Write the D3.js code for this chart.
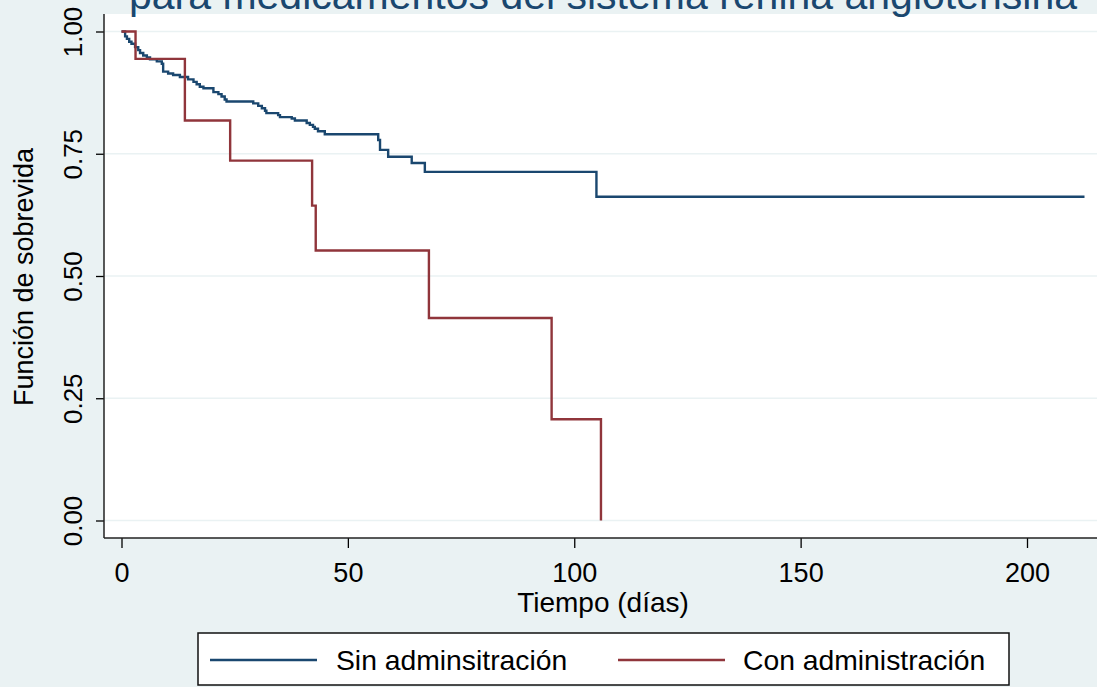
<!DOCTYPE html>
<html><head><meta charset="utf-8">
<script src="https://cdn.jsdelivr.net/npm/d3@7"></script>
<style>body{margin:0;background:#eaf2f3;} svg{display:block;font-family:"Liberation Sans",Arial,sans-serif;}</style>
</head><body><svg id="c" width="1097" height="687"></svg>
<script>
const titleText = "para medicamentos del sistema renina angiotensina";
const seriesNames = ["Sin adminsitración", "Con administración"];
const seriesColors = ["#1a476f", "#90353b"];
const sinTimes = [0, 0.8, 1.2, 1.7, 2.2, 3.0, 3.7, 4.1, 4.8, 5.6, 6.3, 7.8, 8.9, 9.2, 10.3, 11.4, 12.9, 14.7, 15.9, 16.6, 17.3, 18.1, 20.3, 21.4, 22.1, 22.8, 23.2, 29.1, 30.2, 31.0, 31.7, 32.0, 34.6, 35.0, 37.6, 38.3, 40.9, 41.6, 42.3, 42.7, 43.4, 44.9, 56.7, 57.1, 58.9, 64.1, 67.0, 104.9, 212.7];
const sinSurv = [1.000, 0.990, 0.985, 0.979, 0.975, 0.968, 0.962, 0.956, 0.951, 0.947, 0.943, 0.939, 0.934, 0.918, 0.914, 0.911, 0.907, 0.902, 0.897, 0.892, 0.887, 0.884, 0.876, 0.872, 0.867, 0.861, 0.857, 0.853, 0.848, 0.843, 0.838, 0.833, 0.829, 0.825, 0.822, 0.818, 0.813, 0.809, 0.805, 0.801, 0.796, 0.790, 0.778, 0.758, 0.744, 0.731, 0.713, 0.662, 0.662];
const conTimes = [0, 3.1, 14.0, 24.0, 42.1, 42.9, 67.9, 95.0, 105.9];
const conSurv = [1.000, 0.944, 0.818, 0.736, 0.644, 0.552, 0.414, 0.207, 0.000];
const xTicks = [0, 50, 100, 150, 200];
const yTicks = [0, 0.25, 0.5, 0.75, 1];
const yTickLabels = ["0.00", "0.25", "0.50", "0.75", "1.00"];
const xTitle = "Tiempo (días)";
const yTitle = "Función de sobrevida";

const svg = d3.select("#c");
const W = 1097, H = 687;
const x = d3.scaleLinear().domain([0, 200]).range([121.5, 1027]);
const y = d3.scaleLinear().domain([0, 1]).range([520.5, 31.5]);
const plotLeft = 104, plotTop = 14, plotBottom = 538;

svg.append("rect").attr("x", 0).attr("y", 0).attr("width", W).attr("height", H).attr("fill", "#eaf2f3");
svg.append("rect").attr("x", plotLeft).attr("y", plotTop).attr("width", W - plotLeft).attr("height", plotBottom - plotTop).attr("fill", "#ffffff");

// title (cut at top, as in the reference)
svg.append("text").attr("x", 603).attr("y", 9).attr("text-anchor", "middle")
  .attr("font-size", 41).attr("fill", "#1a476f").text(titleText);

// grid
svg.append("g").selectAll("line").data(yTicks).join("line")
  .attr("x1", plotLeft + 1).attr("x2", W).attr("y1", d => y(d)).attr("y2", d => y(d))
  .attr("stroke", "#eaf2f3").attr("stroke-width", 1.6);

// axes
const yAxis = d3.axisLeft(y).tickValues(yTicks).tickFormat((d, i) => yTickLabels[i]).tickSize(8).tickPadding(4);
const gy = svg.append("g").attr("transform", `translate(${plotLeft},0)`).call(yAxis);
gy.select(".domain").remove();
gy.selectAll(".tick line").attr("stroke", "#000").attr("stroke-width", 1.3);
gy.selectAll(".tick text").attr("font-size", 26).attr("font-family", "Liberation Sans, Arial, sans-serif")
  .attr("fill", "#000").attr("text-anchor", "middle").attr("x", 0).attr("dy", 0)
  .attr("transform", "translate(-22,0) rotate(-90)");

const xAxis = d3.axisBottom(x).tickValues(xTicks).tickFormat(d3.format("d")).tickSize(10).tickPadding(6);
const gx = svg.append("g").attr("transform", `translate(0,${plotBottom})`).call(xAxis);
gx.select(".domain").remove();
gx.selectAll(".tick line").attr("stroke", "#000").attr("stroke-width", 1.3);
gx.selectAll(".tick text").attr("font-size", 27).attr("font-family", "Liberation Sans, Arial, sans-serif")
  .attr("fill", "#000").attr("dy", 0).attr("y", 44);

svg.append("line").attr("x1", plotLeft).attr("x2", plotLeft).attr("y1", plotTop).attr("y2", plotBottom)
  .attr("stroke", "#222").attr("stroke-width", 1.5);
svg.append("line").attr("x1", plotLeft).attr("x2", W).attr("y1", plotBottom).attr("y2", plotBottom)
  .attr("stroke", "#222").attr("stroke-width", 1.5);

// axis titles
svg.append("text").attr("x", 603).attr("y", 612).attr("text-anchor", "middle")
  .attr("font-size", 28).attr("fill", "#000").text(xTitle);
svg.append("text").attr("transform", "translate(33,277) rotate(-90)").attr("text-anchor", "middle")
  .attr("font-size", 27).attr("fill", "#000").text(yTitle);

// curves
const line = d3.line().x(d => x(d[0])).y(d => y(d[1])).curve(d3.curveStepAfter);
const sinPts = sinTimes.map((t, i) => [t, sinSurv[i]]);
const conPts = conTimes.map((t, i) => [t, conSurv[i]]);
svg.append("path").datum(sinPts).attr("d", line).attr("fill", "none")
  .attr("stroke", seriesColors[0]).attr("stroke-width", 2.4);
svg.append("path").datum(conPts).attr("d", line).attr("fill", "none")
  .attr("stroke", seriesColors[1]).attr("stroke-width", 2.4);

// legend
svg.append("rect").attr("x", 198).attr("y", 633).attr("width", 811).attr("height", 52)
  .attr("fill", "#fff").attr("stroke", "#111").attr("stroke-width", 1.5);
const legX = [[210, 317, 336], [618, 725, 743]];
seriesNames.forEach((n, i) => {
  svg.append("line").attr("x1", legX[i][0]).attr("x2", legX[i][1]).attr("y1", 660).attr("y2", 660)
    .attr("stroke", seriesColors[i]).attr("stroke-width", 2.4);
  svg.append("text").attr("x", legX[i][2]).attr("y", 670).attr("font-size", 28.3).attr("fill", "#000").text(n);
});
</script></body></html>
